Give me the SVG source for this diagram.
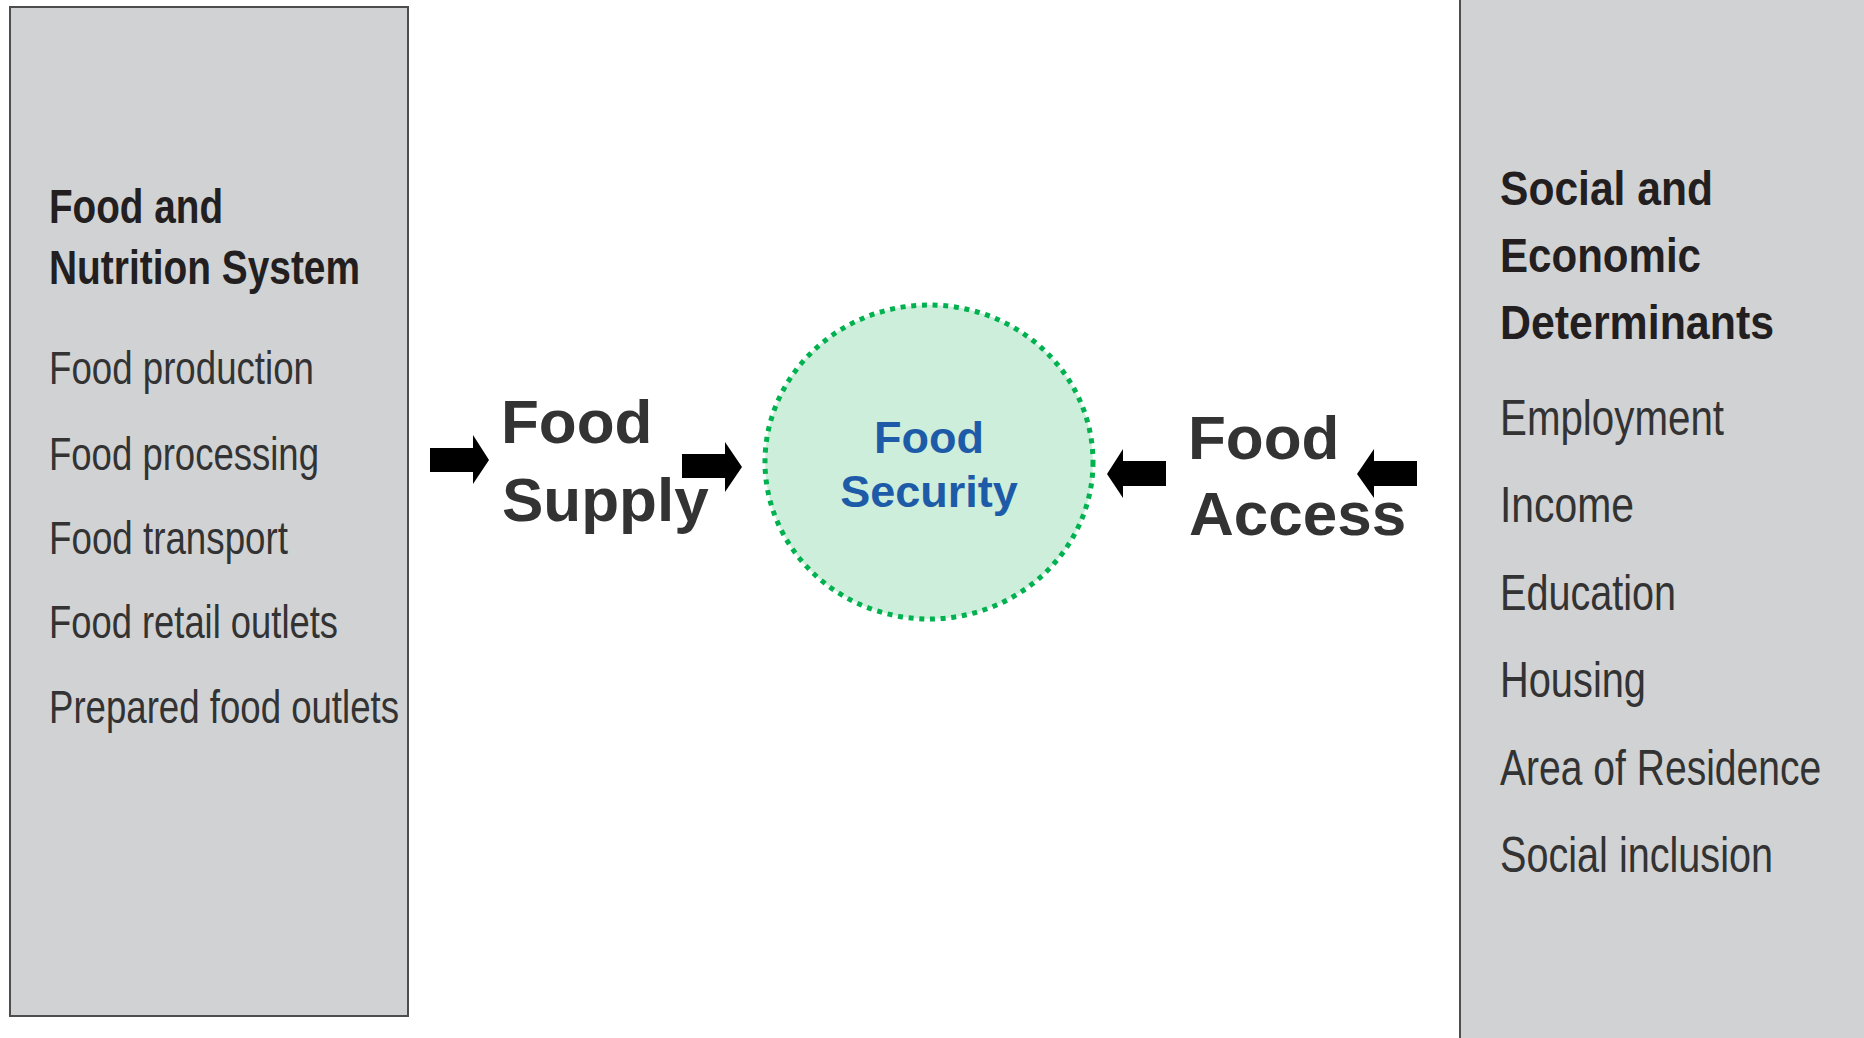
<svg xmlns="http://www.w3.org/2000/svg" width="1864" height="1038" viewBox="0 0 1864 1038">
  <style>
    .panel { fill: #d1d2d4; stroke: #4d4d4d; stroke-width: 2; }
    .head { font-family: "Liberation Sans", Arial, sans-serif; font-weight: bold; fill: #231f20; }
    .item { font-family: "Liberation Sans", Arial, sans-serif; fill: #333333; }
    .big { font-family: "Liberation Sans", Arial, sans-serif; font-weight: bold; font-size: 62px; fill: #333333; }
    .core { font-family: "Liberation Sans", Arial, sans-serif; font-weight: bold; font-size: 45px; fill: #1d5ba8; text-anchor: middle; }
    .arrow { fill: #000000; }
  </style>

  <rect width="1864" height="1038" fill="#ffffff"/>

  <!-- Left panel: food and nutrition system -->
  <g id="food-nutrition-system">
    <rect class="panel" x="10" y="7" width="398" height="1009"/>
    <text class="head" font-size="48" x="49" y="223" textLength="174" lengthAdjust="spacingAndGlyphs">Food and</text>
    <text class="head" font-size="48" x="49" y="284" textLength="311" lengthAdjust="spacingAndGlyphs">Nutrition System</text>
    <text class="item" font-size="46" x="49" y="384" textLength="265" lengthAdjust="spacingAndGlyphs">Food production</text>
    <text class="item" font-size="46" x="49" y="470" textLength="270" lengthAdjust="spacingAndGlyphs">Food processing</text>
    <text class="item" font-size="46" x="49" y="554" textLength="239" lengthAdjust="spacingAndGlyphs">Food transport</text>
    <text class="item" font-size="46" x="49" y="638" textLength="289" lengthAdjust="spacingAndGlyphs">Food retail outlets</text>
    <text class="item" font-size="46" x="49" y="723" textLength="350" lengthAdjust="spacingAndGlyphs">Prepared food outlets</text>
  </g>

  <!-- Right panel: social and economic determinants -->
  <g id="social-economic-determinants">
    <rect class="panel" x="1460" y="-5" width="420" height="1050"/>
    <text class="head" font-size="49" x="1500" y="205" textLength="213" lengthAdjust="spacingAndGlyphs">Social and</text>
    <text class="head" font-size="49" x="1500" y="272" textLength="201" lengthAdjust="spacingAndGlyphs">Economic</text>
    <text class="head" font-size="49" x="1500" y="339" textLength="274" lengthAdjust="spacingAndGlyphs">Determinants</text>
    <text class="item" font-size="50" x="1500" y="435" textLength="224" lengthAdjust="spacingAndGlyphs">Employment</text>
    <text class="item" font-size="50" x="1500" y="522" textLength="134" lengthAdjust="spacingAndGlyphs">Income</text>
    <text class="item" font-size="50" x="1500" y="610" textLength="176" lengthAdjust="spacingAndGlyphs">Education</text>
    <text class="item" font-size="50" x="1500" y="697" textLength="146" lengthAdjust="spacingAndGlyphs">Housing</text>
    <!-- condensed by a horizontal scale so the natural run stays inside the page -->
    <text class="item" font-size="50" transform="translate(1500 785) scale(0.781 1)">Area of Residence</text>
    <text class="item" font-size="50" x="1500" y="872" textLength="273" lengthAdjust="spacingAndGlyphs">Social inclusion</text>
  </g>

  <!-- Flow labels -->
  <g id="food-supply">
    <text class="big" x="501" y="443">Food</text>
    <text class="big" x="502" y="521">Supply</text>
  </g>
  <g id="food-access">
    <text class="big" x="1188" y="459">Food</text>
    <text class="big" x="1189" y="535">Access</text>
  </g>

  <!-- Central outcome: dotted green disc -->
  <g id="food-security">
    <ellipse cx="929" cy="462" rx="164" ry="157" fill="#cdeedb" stroke="#00b14f" stroke-width="5" stroke-dasharray="5 5.7"/>
    <text class="core" x="929" y="453">Food</text>
    <text class="core" x="929" y="507">Security</text>
  </g>

  <!-- Block arrows feeding into food security -->
  <g id="connectors">
    <polygon class="arrow" points="430,448 473,448 473,435 489,460 473,484 473,472 430,472"/>
    <polygon class="arrow" points="682,454 725,454 725,442 742,467 725,492 725,478 682,478"/>
    <polygon class="arrow" points="1166,461 1123,461 1123,449 1107,474 1123,498 1123,486 1166,486"/>
    <polygon class="arrow" points="1417,461 1374,461 1374,449 1357,474 1374,498 1374,486 1417,486"/>
  </g>
</svg>
